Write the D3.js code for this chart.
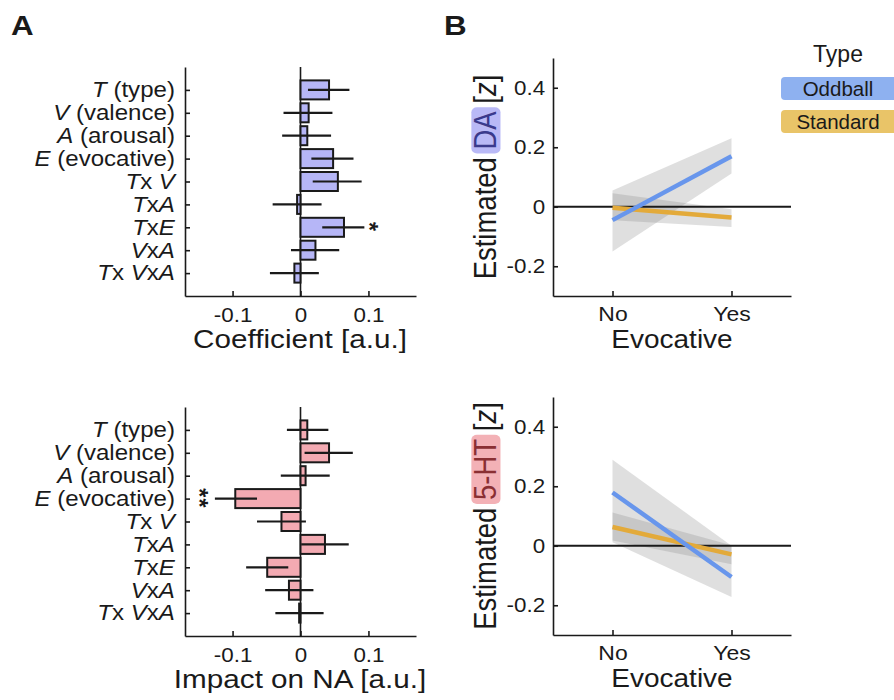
<!DOCTYPE html>
<html>
<head>
<meta charset="utf-8">
<script src="https://cdn.jsdelivr.net/npm/d3@7"></script>
<style>
  body { margin: 0; background: #fff; }
  svg { display: block; }
  text { font-family: "Liberation Sans", Arial, sans-serif; fill: #1a1a1a; }
</style>
</head>
<body>
<svg id="fig" width="894" height="700"></svg>
<script>
// Panel A: regression terms ({..} = italic)
const terms = ['{T} (type)', '{V} (valence)', '{A} (arousal)', '{E} (evocative)',
    '{T}x {V}', '{T}x{A}', '{T}x{E}', '{V}x{A}', '{T}x {V}x{A}'];
const coefTicks = [-0.1, 0, 0.1];

// Coefficient (DA)
const daCoef = [0.042, 0.012, 0.010, 0.048, 0.055, -0.005, 0.064, 0.022, -0.009];
const daCoefLo = [0.011, -0.025, -0.027, 0.016, 0.018, -0.041, 0.032, -0.014, -0.045];
const daCoefHi = [0.072, 0.047, 0.045, 0.078, 0.090, 0.031, 0.094, 0.057, 0.027];
const daSig = ['', '', '', '', '', '', '*', '', ''];

// Impact on NA (5-HT)
const htCoef = [0.010, 0.042, 0.0075, -0.096, -0.028, 0.036, -0.049, -0.017, -0.002];
const htCoefLo = [-0.020, 0.006, -0.029, -0.126, -0.064, 0.001, -0.080, -0.052, -0.037];
const htCoefHi = [0.041, 0.077, 0.043, -0.064, 0.008, 0.071, -0.018, 0.019, 0.034];
const htSig = ['', '', '', '**', '', '', '', '', ''];

// Panel B: estimated marginal means
const evoLevels = ['No', 'Yes'];
const estTicks = [-0.2, 0, 0.2, 0.4];
const daOddball = [-0.045, 0.170];
const daOddballLo = [-0.150, 0.112];
const daOddballHi = [0.055, 0.230];
const daStandard = [-0.003, -0.036];
const daStandardLo = [-0.045, -0.068];
const daStandardHi = [0.045, -0.008];
const htOddball = [0.179, -0.105];
const htOddballLo = [0.012, -0.172];
const htOddballHi = [0.289, 0.000];
const htStandard = [0.063, -0.029];
const htStandardLo = [0.018, -0.062];
const htStandardHi = [0.112, 0.002];
const typeNames = ['Oddball', 'Standard'];

const SX = 1.12;   // source figure is stretched horizontally
const ink = '#1a1a1a';
const colors = { oddball: '#6896ec', standard: '#e3aa3a', oddballKey: '#8eb1f0', standardKey: '#e9c468' };
const svg = d3.select('#fig');

const txt = (g, x, y, s, size, anchor = 'middle', weight = 'normal') =>
    g.append('text')
        .attr('transform', `translate(${x},${y}) scale(${SX},1)`)
        .attr('text-anchor', anchor)
        .attr('font-size', size)
        .attr('font-weight', weight)
        .text(s);

const rich = (sel, s) => {
    sel.text(null);
    s.split(/(\{[^}]+\})/).filter(p => p).forEach(p => {
        const it = p.startsWith('{');
        sel.append('tspan').attr('font-style', it ? 'italic' : null).text(it ? p.slice(1, -1) : p);
    });
};

const styleAxis = (g, size) => {
    g.attr('font-size', size).attr('font-family', null);
    g.select('.domain').attr('stroke', ink).attr('stroke-width', 1.6);
    g.selectAll('.tick line').attr('stroke', ink).attr('stroke-width', 1.6);
    g.selectAll('.tick text').attr('fill', ink).attr('transform', `scale(${SX},1)`);
};

/**
 * Horizontal coefficient bars with error bars
 */
const drawBars = (top, vals, lo, hi, sig, fill, title) => {
    const bottom = top + 229;
    const x = d3.scaleLinear().domain([-0.17, 0.17]).range([185, 416]);
    const y = d3.scalePoint().domain(terms).range([top, bottom]).padding(1);
    const h = y.step() * 0.83;
    const g = svg.append('g');

    g.append('line')
        .attr('x1', x(0)).attr('x2', x(0)).attr('y1', top).attr('y2', bottom)
        .attr('stroke', ink).attr('stroke-width', 1.6);

    g.selectAll('.bar').data(terms).enter().append('rect')
        .attr('x', (d, i) => x(Math.min(0, vals[i])))
        .attr('width', (d, i) => Math.abs(x(vals[i]) - x(0)))
        .attr('y', d => y(d) - h / 2)
        .attr('height', h)
        .attr('fill', fill).attr('stroke', ink).attr('stroke-width', 2);

    g.selectAll('.err').data(terms).enter().append('line')
        .attr('x1', (d, i) => x(lo[i])).attr('x2', (d, i) => x(hi[i]))
        .attr('y1', d => y(d)).attr('y2', d => y(d))
        .attr('stroke', ink).attr('stroke-width', 2.2);

    // significance stars, stacked vertically (text turned 90 degrees)
    terms.forEach((t, i) => {
        if (!sig[i]) return;
        const sx = vals[i] > 0 ? x(hi[i] + 0.016) : x(lo[i] - 0.015);
        g.append('text')
            .attr('transform', `translate(${sx},${y(t)}) rotate(90)`)
            .attr('text-anchor', 'middle')
            .attr('dy', '0.6em')
            .attr('font-size', 23)
            .attr('font-weight', 'bold')
            .attr('letter-spacing', 1.5)
            .text(sig[i]);
    });

    g.append('g').attr('transform', `translate(0,${bottom})`)
        .call(d3.axisBottom(x).tickValues(coefTicks).tickFormat(d => String(d))
            .tickSizeInner(-5).tickSizeOuter(0).tickPadding(12))
        .call(a => styleAxis(a, 20));

    g.append('g').attr('transform', 'translate(185,0)')
        .call(d3.axisLeft(y).tickSizeInner(-5).tickSizeOuter(0).tickPadding(9))
        .call(a => styleAxis(a, 21.5))
        .call(a => a.selectAll('.tick text').each(function (d) { rich(d3.select(this), d); }));

    txt(g, 300, bottom + 52, title, 26.5);
};

/**
 * Estimated-mean lines with confidence bands
 */
const drawLines = (top, series, name, boxFill, nameFill) => {
    const bottom = top + 238;
    const x = d3.scalePoint().domain(evoLevels).range([553, 791]).padding(0.5);
    const y = d3.scaleLinear().domain([-0.3, 0.5]).range([bottom, top]);
    const g = svg.append('g');

    const area = d3.area().x(d => x(d.lvl)).y0(d => y(d.lo)).y1(d => y(d.hi));
    const line = d3.line().x(d => x(d.lvl)).y(d => y(d.v));

    series.forEach(s => {
        const pts = evoLevels.map((l, i) => ({ lvl: l, v: s.v[i], lo: s.lo[i], hi: s.hi[i] }));
        g.append('path').datum(pts).attr('d', area).attr('fill', '#8a8a8a').attr('fill-opacity', 0.27);
    });

    g.append('line')
        .attr('x1', 553).attr('x2', 791).attr('y1', y(0)).attr('y2', y(0))
        .attr('stroke', ink).attr('stroke-width', 1.8);

    series.slice().reverse().forEach(s => {
        const pts = evoLevels.map((l, i) => ({ lvl: l, v: s.v[i] }));
        g.append('path').datum(pts).attr('d', line)
            .attr('fill', 'none').attr('stroke', s.color).attr('stroke-width', 4.5);
    });

    g.append('g').attr('transform', `translate(0,${bottom})`)
        .call(d3.axisBottom(x).tickSizeInner(-5).tickSizeOuter(0).tickPadding(10))
        .call(a => styleAxis(a, 20.5));

    g.append('g').attr('transform', 'translate(553,0)')
        .call(d3.axisLeft(y).tickValues(estTicks).tickFormat(d => String(d))
            .tickSizeInner(-5).tickSizeOuter(0).tickPadding(7))
        .call(a => styleAxis(a, 20));

    txt(g, 672, bottom + 52, 'Evocative', 25);

    // rotated y label with highlighted transmitter name
    const lg = g.append('g').attr('transform', `translate(496,${(top + bottom) / 2}) rotate(-90) scale(1,${SX})`);
    const box = lg.append('rect');
    const t = lg.append('text').attr('font-size', 27.5).attr('text-anchor', 'middle');
    t.append('tspan').text('Estimated ');
    t.append('tspan').attr('fill', nameFill).text(name);
    t.append('tspan').text(' [');
    t.append('tspan').attr('font-style', 'italic').text('z');
    t.append('tspan').text(']');
    const node = t.node();
    const start = node.getStartPositionOfChar(10).x;
    const len = node.getSubStringLength(10, name.length);
    box.attr('x', start - 4).attr('width', len + 8).attr('y', -22).attr('height', 26)
        .attr('rx', 5).attr('fill', boxFill);
};

// Panel letters
txt(svg, 11, 35, 'A', 28, 'start', 'bold');
txt(svg, 444, 35, 'B', 28, 'start', 'bold');

drawBars(67, daCoef, daCoefLo, daCoefHi, daSig, '#b6b6f7', 'Coefficient [a.u.]');
drawBars(407, htCoef, htCoefLo, htCoefHi, htSig, '#f3aab2', 'Impact on NA [a.u.]');

drawLines(58, [
    { v: daOddball, lo: daOddballLo, hi: daOddballHi, color: colors.oddball },
    { v: daStandard, lo: daStandardLo, hi: daStandardHi, color: colors.standard }
], 'DA', '#b9b9f6', '#3a3a8c');
drawLines(397, [
    { v: htOddball, lo: htOddballLo, hi: htOddballHi, color: colors.oddball },
    { v: htStandard, lo: htStandardLo, hi: htStandardHi, color: colors.standard }
], '5-HT', '#f3b1b6', '#8a2f33');

// Legend
const leg = svg.append('g');
leg.append('text').attr('x', 838).attr('y', 62).attr('text-anchor', 'middle').attr('font-size', 23).text('Type');
const keyFill = [colors.oddballKey, colors.standardKey];
typeNames.forEach((nm, i) => {
    const y0 = 77 + i * 33;
    leg.append('rect').attr('x', 781).attr('y', y0).attr('width', 130).attr('height', 23)
        .attr('rx', 4).attr('fill', keyFill[i]);
    leg.append('text').attr('x', 838).attr('y', y0 + 18.5).attr('text-anchor', 'middle')
        .attr('font-size', 20.5).text(nm);
});
</script>
</body>
</html>
